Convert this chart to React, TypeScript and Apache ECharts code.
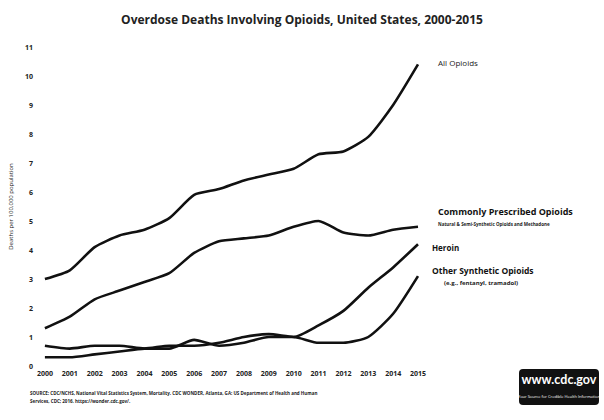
import React, { useEffect, useRef } from "react";
import * as echarts from "echarts";

const years = ["2000","2001","2002","2003","2004","2005","2006","2007","2008","2009","2010","2011","2012","2013","2014","2015"];
const allOpioids = [3.0, 3.3, 4.1, 4.5, 4.7, 5.1, 5.9, 6.1, 6.4, 6.6, 6.8, 7.3, 7.4, 7.9, 9.0, 10.4];
const prescribed = [1.3, 1.7, 2.3, 2.6, 2.9, 3.2, 3.9, 4.3, 4.4, 4.5, 4.8, 5.0, 4.6, 4.5, 4.7, 4.8];
const heroin = [0.7, 0.6, 0.7, 0.7, 0.6, 0.7, 0.7, 0.8, 1.0, 1.1, 1.0, 1.4, 1.9, 2.7, 3.4, 4.2];
const synthetic = [0.3, 0.3, 0.4, 0.5, 0.6, 0.6, 0.9, 0.7, 0.8, 1.0, 1.0, 0.8, 0.8, 1.0, 1.8, 3.1];
const yTicks = { min: 0, max: 11, interval: 1 };

const font = "'Open Sans', 'Liberation Sans', sans-serif";

export default function App() {
  const ref = useRef<HTMLDivElement>(null);
  useEffect(() => {
    if (!ref.current) return;
    const chart = echarts.init(ref.current, null, { renderer: "svg" });
    const line = (name: string, data: number[]) => ({
      name, type: "line", data, showSymbol: false, smooth: 0.2,
      lineStyle: { color: "#111", width: 2.6 },
    });
    chart.setOption({
      animation: false,
      backgroundColor: "#fff",
      textStyle: { fontFamily: font },
      title: {
        text: "Overdose Deaths Involving Opioids, United States, 2000-2015",
        left: "center", top: 8,
        textStyle: { fontSize: 12, fontWeight: "bold", color: "#222", fontFamily: font },
      },
      grid: { left: 33, right: 186, top: 47, bottom: 54 },
      xAxis: {
        type: "category", data: years, boundaryGap: false,
        axisLine: { show: false }, axisTick: { show: false },
        axisLabel: { fontSize: 7, color: "#222", margin: 4, interval: 0, fontWeight: "bold" },
      },
      yAxis: {
        type: "value", ...yTicks,
        name: "Deaths per 100,000 population", nameLocation: "middle", nameGap: 24, nameRotate: 90,
        nameTextStyle: { fontSize: 6, color: "#222" },
        splitLine: { show: false }, axisLine: { show: false }, axisTick: { show: false },
        axisLabel: { fontSize: 7, color: "#222", margin: 12, fontWeight: "bold" },
      },
      series: [
        line("All Opioids", allOpioids),
        line("Commonly Prescribed Opioids", prescribed),
        line("Heroin", heroin),
        line("Other Synthetic Opioids", synthetic),
      ],
      graphic: [
        { type: "text", left: 438, top: 58, style: { text: "All Opioids", fontSize: 8, fill: "#222", fontFamily: font } },
        { type: "text", left: 438, top: 207, style: { text: "Commonly Prescribed Opioids", fontSize: 9, fontWeight: "bold", fill: "#111", fontFamily: font } },
        { type: "text", left: 438, top: 221, style: { text: "Natural & Semi-Synthetic Opioids and Methadone", fontSize: 4.5, fontWeight: "bold", fill: "#222", fontFamily: font } },
        { type: "text", left: 432, top: 243, style: { text: "Heroin", fontSize: 8, fontWeight: "bold", fill: "#111", fontFamily: font } },
        { type: "text", left: 432, top: 266, style: { text: "Other Synthetic Opioids", fontSize: 8.5, fontWeight: "bold", fill: "#111", fontFamily: font } },
        { type: "text", left: 444, top: 280, style: { text: "(e.g., fentanyl, tramadol)", fontSize: 6, fontWeight: "bold", fill: "#222", fontFamily: font } },
        { type: "text", left: 30, top: 390, style: { text: "SOURCE: CDC/NCHS, National Vital Statistics System, Mortality. CDC WONDER, Atlanta, GA: US Department of Health and Human", fontSize: 4.5, fontWeight: "bold", fill: "#222", fontFamily: font } },
        { type: "text", left: 30, top: 398, style: { text: "Services, CDC; 2016. https://wonder.cdc.gov/.", fontSize: 4.5, fontWeight: "bold", fill: "#222", fontFamily: font } },
        {
          type: "group", x: 519, y: 369,
          children: [
            { type: "rect", shape: { x: 0, y: 0, width: 80, height: 36, r: 4 }, style: { fill: "#111" } },
            { type: "text", x: 40, y: 4, style: { text: "www.cdc.gov", fontSize: 12.5, fontWeight: "bold", fill: "#fff", fontFamily: "Lato, 'Open Sans', sans-serif", align: "center", verticalAlign: "top" } },
            { type: "text", x: 40, y: 25, style: { text: "Your Source for Credible Health Information", fontSize: 4, fill: "#fff", fontFamily: font, align: "center", verticalAlign: "top" } },
          ],
        },
      ],
    });
    return () => chart.dispose();
  }, []);
  return <div ref={ref} style={{ width: 604, height: 420, position: "absolute", left: 0, top: 0 }} />;
}
